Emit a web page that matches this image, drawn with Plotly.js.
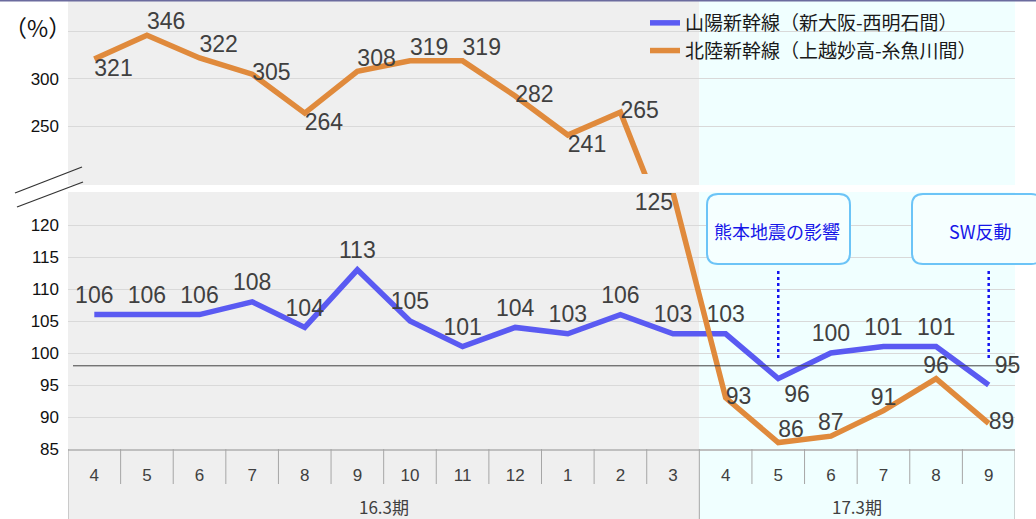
<!DOCTYPE html>
<html>
<head>
<meta charset="utf-8">
<script src="https://cdn.plot.ly/plotly-3.0.1.min.js"></script>
<style>
  html, body { margin: 0; padding: 0; background: #fff; }
  #chart { width: 1036px; height: 519px; }
</style>
</head>
<body>
<div id="chart"></div>
<script>
// data
const months = ['4', '5', '6', '7', '8', '9', '10', '11', '12', '1', '2', '3', '4', '5', '6', '7', '8', '9'];
const periods = ['16.3期', '17.3期'];
const periodSpans = [[0, 11], [12, 17]];
const sanyo = [106, 106, 106, 108, 104, 113, 105, 101, 104, 103, 106, 103, 103, 96, 100, 101, 101, 95];
const hokuriku = [321, 346, 322, 305, 264, 308, 319, 319, 282, 241, 265, 125, 93, 86, 87, 91, 96, 89];
const sanyoName = '山陽新幹線（新大阪-西明石間）';
const hokurikuName = '北陸新幹線（上越妙高-糸魚川間）';
const notes = [{ text: '熊本地震の影響', at: 13 }, { text: 'SW反動', at: 17 }];

// label placement (style only)
const sanyoPos = ['top center', 'top center', 'top center', 'top center', 'top center', 'top center',
  'top center', 'top center', 'top center', 'top center', 'top center', 'top center',
  'top center', 'bottom right', 'top center', 'top center', 'top center', 'top right'];
const hokurikuPos = ['bottom right', 'top right', 'top right', 'middle right', 'bottom right', 'top right',
  'top right', 'top right', 'middle right', 'bottom right', 'middle right', 'bottom left',
  'middle right', 'top right', 'top center', 'top center', 'top center', 'middle right'];

const W = 1036, H = 519, L = 68, R = 21;
const px = x => (x - L) / (W - L - R);
const py = y => (H - y) / H;

const BLUE = '#5a5af2';
const ORANGE = '#e08a3c';
const GRAY_BG = '#efefef';
const CYAN_BG = '#f0ffff';
const LABEL = '#404040';
const NUM_FONT = 'Liberation Sans, Arial, sans-serif';
const JP_FONT = 'Noto Sans CJK JP, sans-serif';

const idx = months.map((m, i) => i);
const splitAt = 10; // last point drawn on the upper (broken) scale

const traces = [
  {
    x: idx, y: sanyo, xaxis: 'x', yaxis: 'y',
    type: 'scatter', mode: 'lines+markers+text', name: sanyoName,
    line: { color: BLUE, width: 5.5 },
    marker: { size: 8, color: 'rgba(0,0,0,0)' },
    text: sanyo.map(String), textposition: sanyoPos, cliponaxis: false,
    textfont: { family: NUM_FONT, size: 23, color: LABEL }
  },
  {
    x: idx, y: hokuriku, xaxis: 'x2', yaxis: 'y2',
    type: 'scatter', mode: 'lines+text', name: hokurikuName,
    line: { color: ORANGE, width: 5.5 },
    text: hokuriku.map((v, i) => i <= splitAt ? String(v) : ''), textposition: hokurikuPos,
    textfont: { family: NUM_FONT, size: 23, color: LABEL }
  },
  {
    x: idx, y: hokuriku, xaxis: 'x', yaxis: 'y',
    type: 'scatter', mode: 'lines+text', name: hokurikuName, showlegend: false,
    line: { color: ORANGE, width: 5.5 },
    text: hokuriku.map((v, i) => i > splitAt ? String(v) : ''), textposition: hokurikuPos,
    textfont: { family: NUM_FONT, size: 23, color: LABEL }
  }
];

const shapes = [];
// backgrounds (upper and lower panels, white gap between)
[[0, 185], [192, 519]].forEach(([a, b]) => {
  shapes.push({ type: 'rect', layer: 'below', xref: 'x', yref: 'paper', x0: -0.5, x1: 11.5, y0: py(b), y1: py(a), fillcolor: GRAY_BG, line: { width: 0 } });
  shapes.push({ type: 'rect', layer: 'below', xref: 'x', yref: 'paper', x0: 11.5, x1: 17.55, y0: py(b), y1: py(a), fillcolor: CYAN_BG, line: { width: 0 } });
});
// category table below the axis
idx.slice(0, -1).forEach(i => {
  const groupEdge = periodSpans.some(s => s[1] === i);
  shapes.push({ type: 'line', xref: 'x', yref: 'paper', x0: i + 0.5, x1: i + 0.5, y0: groupEdge ? 0 : py(484), y1: py(449), line: { color: '#a6a6a6', width: 1 } });
});
[-0.5, 17.5].forEach(x => {
  shapes.push({ type: 'line', xref: 'x', yref: 'paper', x0: x, x1: x, y0: 0, y1: py(449), line: { color: '#a6a6a6', width: 1 } });
});
// reference line
shapes.push({ type: 'line', xref: 'paper', yref: 'y', x0: px(73), x1: 1, y0: 98, y1: 98, line: { color: '#404040', width: 1 } });
// broken-axis marks
shapes.push({ type: 'line', xref: 'paper', yref: 'paper', x0: px(15), y0: py(193), x1: px(82), y1: py(167), line: { color: '#333', width: 1.3 } });
shapes.push({ type: 'line', xref: 'paper', yref: 'paper', x0: px(17), y0: py(207), x1: px(83), y1: py(182), line: { color: '#333', width: 1.3 } });
// top border
shapes.push({ type: 'line', xref: 'paper', yref: 'paper', x0: px(0), x1: px(W), y0: py(0.5), y1: py(0.5), line: { color: '#6b6b9e', width: 2 } });

// rounded callout boxes
function roundRect(x0, y0, x1, y1, r) {
  const P = (x, y) => px(x) + ',' + py(y);
  return 'M' + P(x0 + r, y0) + ' L' + P(x1 - r, y0) + ' Q' + P(x1, y0) + ' ' + P(x1, y0 + r) +
    ' L' + P(x1, y1 - r) + ' Q' + P(x1, y1) + ' ' + P(x1 - r, y1) +
    ' L' + P(x0 + r, y1) + ' Q' + P(x0, y1) + ' ' + P(x0, y1 - r) +
    ' L' + P(x0, y0 + r) + ' Q' + P(x0, y0) + ' ' + P(x0 + r, y0) + ' Z';
}
const boxes = [[707, 850], [912, 1042]];
const annotations = [];
notes.forEach((n, k) => {
  const [bx0, bx1] = boxes[k];
  shapes.push({ type: 'path', xref: 'paper', yref: 'paper', path: roundRect(bx0, 194, bx1, 264, 11), fillcolor: '#f5ffff', line: { color: '#6cc4f7', width: 2 } });
  shapes.push({ type: 'line', xref: 'x', yref: 'paper', x0: n.at, x1: n.at, y0: py(358), y1: py(268), line: { color: '#1414f0', width: 2.5, dash: 'dot' } });
  annotations.push({ xref: 'paper', yref: 'paper', x: px(k === 0 ? 777 : 980), y: py(231), text: n.text, showarrow: false, xanchor: 'center', yanchor: 'middle', font: { family: JP_FONT, size: 18, color: '#1616e8' } });
});

periods.forEach((p, k) => {
  annotations.push({ xref: 'x', yref: 'paper', x: (periodSpans[k][0] + periodSpans[k][1]) / 2, y: py(506), text: p, showarrow: false, xanchor: 'center', yanchor: 'middle', font: { family: JP_FONT, size: 17, color: LABEL } });
});
annotations.push({ xref: 'paper', yref: 'paper', x: px(37), y: py(27), text: '（%）', showarrow: false, xanchor: 'center', yanchor: 'middle', font: { family: JP_FONT, size: 23, color: '#111' } });

const layout = {
  width: W, height: H,
  margin: { l: L, r: R, t: 0, b: 0 },
  paper_bgcolor: '#ffffff',
  plot_bgcolor: 'rgba(0,0,0,0)',
  showlegend: true,
  legend: {
    x: px(645), y: py(4), xanchor: 'left', yanchor: 'top',
    bgcolor: 'rgba(0,0,0,0)', font: { family: JP_FONT, size: 19, color: '#1a1a1a' },
    tracegroupgap: 0, itemwidth: 30
  },
  xaxis: {
    domain: [0, 1], range: [-0.5, 17.5], anchor: 'y',
    tickvals: idx, ticktext: months, ticks: '', ticklabelstandoff: 10,
    tickfont: { family: NUM_FONT, size: 17, color: LABEL },
    showgrid: false, zeroline: false, showline: true, linecolor: '#bfbfbf', linewidth: 1.5
  },
  xaxis2: {
    domain: [0, 1], matches: 'x', anchor: 'y2',
    showticklabels: false, ticks: '', showgrid: false, zeroline: false, showline: false
  },
  yaxis: {
    domain: [py(449), py(193)], range: [85, 125],
    tickvals: [85, 90, 95, 100, 105, 110, 115, 120, 125],
    ticktext: ['85', '90', '95', '100', '105', '110', '115', '120', ''],
    ticks: '', ticklabelstandoff: 8,
    tickfont: { family: NUM_FONT, size: 17, color: '#111' },
    showgrid: true, gridcolor: '#d9d9d9', gridwidth: 1, zeroline: false, showline: false
  },
  yaxis2: {
    domain: [py(174), 1], range: [200, 383], anchor: 'x2',
    tickvals: [200, 250, 300, 350], ticktext: ['', '250', '300', ''],
    ticks: '', ticklabelstandoff: 8,
    tickfont: { family: NUM_FONT, size: 17, color: '#111' },
    showgrid: true, gridcolor: '#d9d9d9', gridwidth: 1, zeroline: false, showline: false
  },
  shapes: shapes,
  annotations: annotations
};

Plotly.newPlot('chart', traces, layout, { displayModeBar: false, staticPlot: true });
</script>
</body>
</html>
